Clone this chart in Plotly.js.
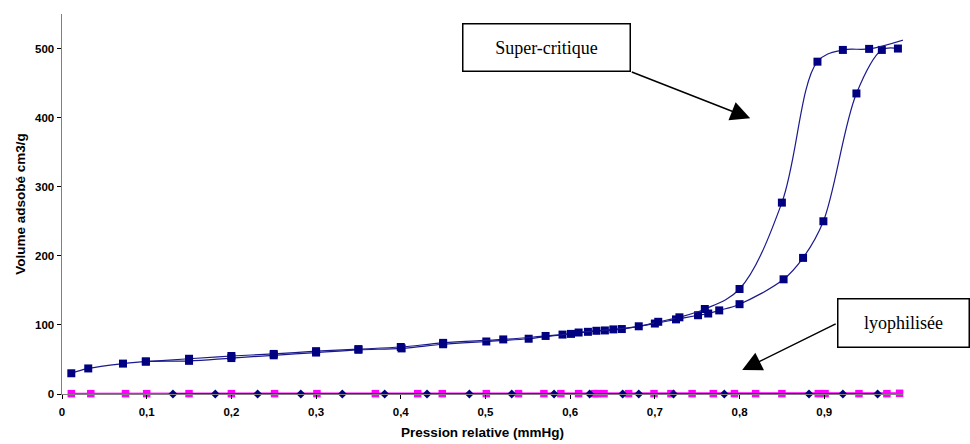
<!DOCTYPE html>
<html>
<head>
<meta charset="utf-8">
<script src="https://cdn.plot.ly/plotly-3.0.1.min.js"></script>
<style>html,body{margin:0;padding:0;background:#fff;}#chart{width:970px;height:444px;}</style>
</head>
<body>
<div id="chart"></div>
<script>
// Super-critique: adsorption branch
const scAdsX = [0.011, 0.031, 0.072, 0.099, 0.150, 0.200, 0.250, 0.300, 0.350, 0.401, 0.450, 0.501, 0.551, 0.591, 0.621, 0.641, 0.661, 0.700, 0.725, 0.751, 0.763, 0.776, 0.800, 0.852, 0.875, 0.899, 0.938, 0.968, 0.987];
const scAdsY = [30, 37, 44, 47, 48, 52, 56, 60, 64, 66, 72, 76, 80, 86, 90, 92, 94, 102, 108, 114, 116.5, 121, 130, 166, 197, 250, 435, 498, 500];
// Super-critique: desorption branch
const scDesX = [1.0, 0.953, 0.922, 0.892, 0.850, 0.800, 0.759, 0.729, 0.704, 0.681, 0.651, 0.631, 0.610, 0.601, 0.571, 0.521, 0.450, 0.400, 0.350, 0.300, 0.250, 0.200, 0.150, 0.099];
const scDesY = [515, 499.5, 498, 481, 277, 152, 123, 111, 104.5, 98, 93.5, 91.5, 89, 87, 84, 79, 74, 68, 65, 62, 58, 55, 51, 47];
// Lyophilisée: two series close to zero
const lyoPinkX = [0.011, 0.034, 0.075, 0.100, 0.150, 0.200, 0.251, 0.301, 0.370, 0.420, 0.449, 0.501, 0.539, 0.569, 0.589, 0.610, 0.629, 0.632, 0.640, 0.669, 0.699, 0.719, 0.744, 0.769, 0.794, 0.819, 0.850, 0.893, 0.901, 0.941, 0.974, 0.989];
const lyoPinkY = [0.5, 0.5, 0.5, 0.5, 0.5, 0.5, 0.5, 0.5, 0.5, 0.5, 0.5, 0.5, 0.5, 0.5, 0.5, 0.5, 0.5, 0.5, 0.5, 0.5, 0.5, 0.5, 0.5, 0.5, 0.5, 0.5, 0.5, 0.5, 0.5, 0.5, 0.5, 1];
const lyoNavyX = [0.131, 0.181, 0.231, 0.282, 0.331, 0.381, 0.431, 0.481, 0.531, 0.581, 0.623, 0.662, 0.681, 0.722, 0.782, 0.882, 0.922, 0.963];
const lyoNavyY = [0, 0, 0, 0, 0, 0, 0, 0, 0, 0, 0, 0, 0, 0, 0, 0, 0, 0];

const xTickVals = [0, 0.1, 0.2, 0.3, 0.4, 0.5, 0.6, 0.7, 0.8, 0.9];
const xTickLabels = ['0', '0,1', '0,2', '0,3', '0,4', '0,5', '0,6', '0,7', '0,8', '0,9'];
const yTickVals = [0, 100, 200, 300, 400, 500];
const yTickLabels = ['0', '100', '200', '300', '400', '500'];

const NAVY = '#000080';
const PINK = '#FF00FF';

const traces = [
  {x: lyoPinkX, y: lyoPinkY, mode: 'lines+markers', name: 'lyophilisée ads', cliponaxis: false,
   line: {color: PINK, width: 2}, marker: {symbol: 'square', size: 7.5, color: PINK}},
  {x: lyoNavyX, y: lyoNavyY, mode: 'lines+markers', name: 'lyophilisée des', cliponaxis: false,
   line: {color: 'rgba(0,0,128,0.55)', width: 2}, marker: {symbol: 'diamond', size: 7, color: NAVY}},
  {x: scAdsX, y: scAdsY, mode: 'lines+markers', name: 'Super-critique ads',
   line: {color: '#1a1a8c', width: 1.2, shape: 'spline', smoothing: 1}, marker: {symbol: 'square', size: 8, color: NAVY}},
  {x: scDesX, y: scDesY, mode: 'lines+markers', name: 'Super-critique des',
   line: {color: '#1a1a8c', width: 1.2, shape: 'spline', smoothing: 1}, marker: {symbol: 'square', size: 8, color: NAVY}}
];

const bold = s => '<b>' + s + '</b>';
const tickFont = {family: 'Liberation Sans, Arial, sans-serif', size: 11.5, color: '#000', weight: 700};
const titleFont = {family: 'Liberation Sans, Arial, sans-serif', size: 13.5, color: '#000', weight: 700};
const boxFont = {family: 'Liberation Serif, Times New Roman, serif', size: 18, color: '#000'};

const layout = {
  width: 970, height: 444,
  margin: {l: 62, r: 67, t: 14, b: 50},
  paper_bgcolor: '#fff', plot_bgcolor: '#fff',
  showlegend: false,
  separators: ', ',
  xaxis: {
    range: [0, 0.993], tickmode: 'array', tickvals: xTickVals, ticktext: xTickLabels.map(bold),
    showgrid: false, zeroline: false,
    showline: true, linecolor: '#808080', linewidth: 1,
    ticks: 'outside', ticklen: 4, tickcolor: '#000', tickfont: tickFont, ticklabelstandoff: 3,
    title: {text: 'Pression relative (mmHg)', font: titleFont, standoff: 10}
  },
  yaxis: {
    range: [0, 550], tickmode: 'array', tickvals: yTickVals, ticktext: yTickLabels.map(bold),
    showgrid: false, zeroline: false,
    showline: true, linecolor: '#808080', linewidth: 1.5,
    ticks: 'outside', ticklen: 4, tickcolor: '#000', tickfont: tickFont,
    title: {text: 'Volume adsobé cm3/g', font: titleFont, standoff: 6}
  },
  annotations: [
    {xref: 'x', yref: 'y', x: 0.5716, y: 501, text: 'Super-critique', showarrow: false,
     font: boxFont, bordercolor: '#000', borderwidth: 1.5, borderpad: 2, width: 162, height: 42, bgcolor: '#fff'},
    {xref: 'x', yref: 'y', axref: 'x', ayref: 'y', x: 0.8126, y: 399, ax: 0.671, ay: 467, text: '',
     showarrow: true, arrowhead: 2, arrowsize: 2.6, arrowwidth: 1.5, arrowcolor: '#000', standoff: 0},
    {xref: 'x', yref: 'y', x: 0.993, y: 103, text: 'lyophilisée', showarrow: false,
     font: boxFont, bordercolor: '#000', borderwidth: 1.5, borderpad: 2, width: 126, height: 43, bgcolor: '#fff'},
    {xref: 'x', yref: 'y', axref: 'x', ayref: 'y', x: 0.8031, y: 34.7, ax: 0.9153, ay: 102.6, text: '',
     showarrow: true, arrowhead: 2, arrowsize: 2.6, arrowwidth: 1.5, arrowcolor: '#000', standoff: 0}
  ]
};

Plotly.newPlot('chart', traces, layout, {staticPlot: true, displayModeBar: false});
</script>
</body>
</html>
